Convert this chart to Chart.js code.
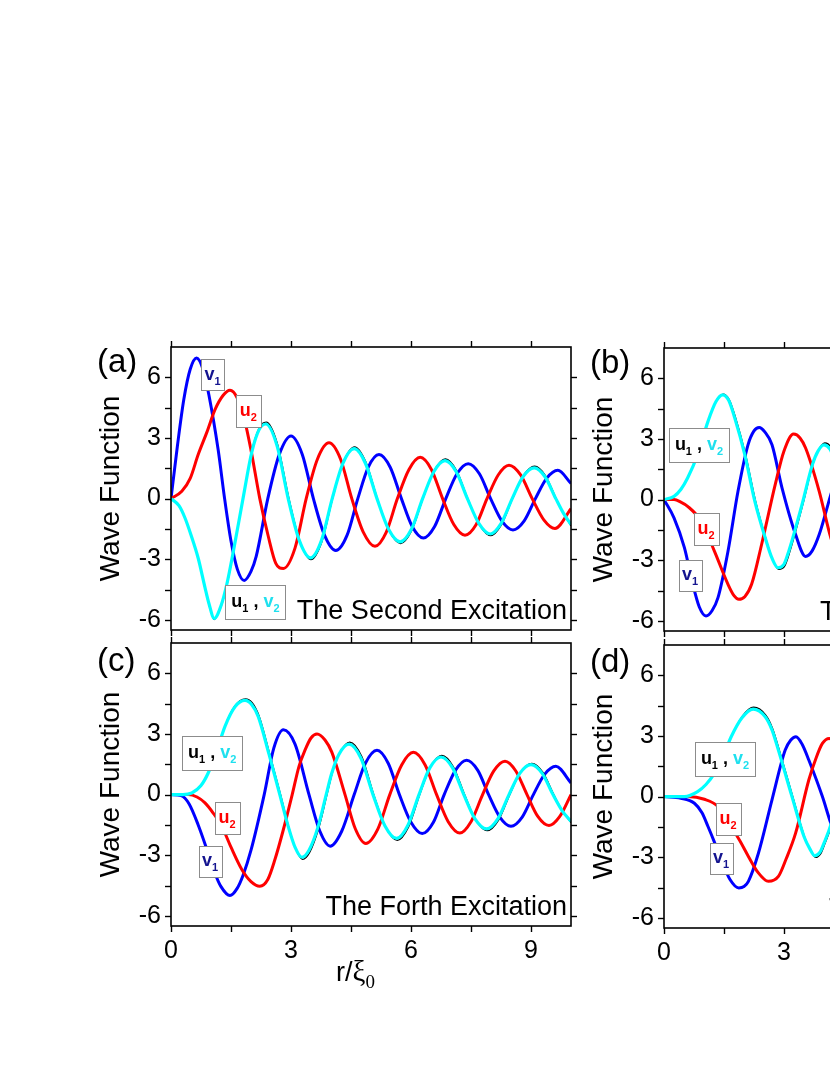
<!DOCTYPE html>
<html lang="en">

<head>
  <meta charset="UTF-8" />
  <title>Wave Function</title>
  <script src="https://cdn.jsdelivr.net/npm/chart.js"></script>
  <style>
    html, body { margin: 0; padding: 0; background: #fff; }
    body { width: 830px; height: 1075px; overflow: hidden; position: relative; }
    canvas { position: absolute; }
  </style>
</head>

<body>
  <canvas id="cA" width="491" height="313" style="left:90px; top:327px;"></canvas>
  <canvas id="cB" width="491" height="313" style="left:583px; top:328px;"></canvas>
  <canvas id="cC" width="491" height="373" style="left:90px; top:623px;"></canvas>
  <canvas id="cD" width="491" height="373" style="left:583px; top:625px;"></canvas>

  <script>
    // eixos
    const xTicks = [0, 3, 6, 9];
    const yTicks = [-6, -3, 0, 3, 6];
    const xMarcas = [0, 1.5, 3, 4.5, 6, 7.5, 9];
    const yMarcas = [-6, -4.5, -3, -1.5, 0, 1.5, 3, 4.5, 6];

    // (a) segunda excitacao  -- pares [r, valor]
    const aV1 = [[0,0],[0.16,2.6],[0.32,4.9],[0.48,6.4],[0.64,6.96],[0.8,6.4],[0.95,5.1],[1.18,2.4],[1.34,0],[1.5,-2.1],[1.66,-3.5],[1.83,-4.05],[2.0,-3.6],[2.13,-2.86],[2.42,0],[2.71,2.2],[3.0,3.1],[3.28,2.2],[3.56,0],[3.84,-1.82],[4.12,-2.57],[4.4,-1.82],[4.67,0],[4.93,1.55],[5.2,2.18],[5.48,1.55],[5.76,0],[6.03,-1.38],[6.31,-1.95],[6.59,-1.38],[6.87,0],[7.15,1.23],[7.43,1.73],[7.71,1.23],[7.99,0],[8.27,-1.1],[8.55,-1.55],[8.83,-1.1],[9.11,0],[9.39,1.0],[9.67,1.4],[10,0.75]];
    const aU2 = [[0,0],[0.27,0.36],[0.48,1.0],[0.68,2.18],[0.9,3.3],[1.1,4.4],[1.3,5.1],[1.475,5.36],[1.65,5.0],[1.85,3.8],[2.0,2.4],[2.22,0],[2.43,-1.85],[2.62,-3.2],[2.81,-3.46],[3.1,-2.45],[3.38,0],[3.66,1.95],[3.95,2.76],[4.24,1.95],[4.52,0],[4.81,-1.67],[5.1,-2.36],[5.38,-1.67],[5.66,0],[5.95,1.44],[6.23,2.04],[6.51,1.44],[6.79,0],[7.07,-1.28],[7.35,-1.81],[7.63,-1.28],[7.9,0],[8.18,1.17],[8.45,1.65],[8.74,1.17],[9.03,0],[9.32,-1.05],[9.6,-1.48],[10,-0.5]];
    const aV2 = [[0,0],[0.2,-0.35],[0.35,-0.96],[0.5,-1.8],[0.68,-2.95],[0.85,-4.4],[0.95,-5.2],[1.08,-5.93],[1.25,-5.3],[1.4,-4.2],[1.56,-2.6],[1.8,0],[2.02,2.3],[2.2,3.4],[2.37,3.69],[2.65,2.62],[2.93,0],[3.21,-2.08],[3.49,-2.93],[3.76,-2.08],[4.03,0],[4.3,1.75],[4.58,2.47],[4.86,1.75],[5.15,0],[5.44,-1.52],[5.73,-2.14],[6.01,-1.52],[6.29,0],[6.57,1.33],[6.85,1.88],[7.13,1.33],[7.41,0],[7.7,-1.24],[7.98,-1.75],[8.25,-1.24],[8.53,0],[8.8,1.08],[9.08,1.52],[9.35,1.08],[9.62,0],[9.81,-0.72],[10,-1.29]];
    const aU1 = [[0,0],[0.2,-0.35],[0.35,-0.96],[0.5,-1.8],[0.68,-2.95],[0.85,-4.45],[0.95,-5.25],[1.08,-5.98],[1.25,-5.35],[1.4,-4.25],[1.56,-2.65],[1.8,0],[2.02,2.35],[2.2,3.48],[2.38,3.78],[2.66,2.72],[2.95,0],[3.23,-2.15],[3.5,-3.02],[3.77,-2.15],[4.04,0],[4.31,1.82],[4.59,2.56],[4.87,1.82],[5.16,0],[5.45,-1.58],[5.74,-2.22],[6.02,-1.58],[6.3,0],[6.58,1.39],[6.86,1.96],[7.14,1.39],[7.42,0],[7.71,-1.3],[7.99,-1.83],[8.26,-1.3],[8.54,0],[8.81,1.14],[9.09,1.6],[9.36,1.14],[9.63,0],[9.82,-0.76],[10,-1.35]];

    // (b) terceira excitacao (so a parte visivel)
    const bV1 = [[0,0],[0.25,-0.9],[0.51,-2.38],[0.72,-4.19],[0.88,-5.3],[1.05,-5.76],[1.2,-5.5],[1.35,-4.85],[1.6,-2.55],[1.85,0.41],[2.1,2.71],[2.25,3.4],[2.38,3.57],[2.52,3.35],[2.7,2.71],[2.95,0.58],[3.29,-1.73],[3.54,-2.81],[3.7,-2.55],[3.88,-1.73],[4.17,0.25],[4.3,1.1]];
    const bU2 = [[0,0],[0.25,0],[0.42,-0.12],[0.59,-0.33],[0.93,-1.07],[1.26,-2.55],[1.6,-4.19],[1.75,-4.75],[1.87,-4.93],[2.02,-4.8],[2.19,-4.19],[2.44,-2.22],[2.78,0.74],[3.0,2.4],[3.24,3.24],[3.4,3.05],[3.54,2.55],[3.88,0.41],[4.17,-1.89],[4.3,-2.6]];
    const bV2 = [[0,0],[0.25,0.16],[0.42,0.5],[0.59,1.07],[0.84,2.22],[1.1,3.87],[1.3,4.85],[1.47,5.18],[1.62,4.9],[1.77,4.03],[2.02,2.22],[2.27,-0.08],[2.53,-1.89],[2.7,-2.9],[2.85,-3.37],[3.0,-3.2],[3.12,-2.55],[3.45,-0.25],[3.71,1.73],[3.85,2.4],[4.0,2.71],[4.15,2.5],[4.3,1.8]];
    const bU1 = [[0,0],[0.25,0.16],[0.42,0.5],[0.59,1.07],[0.84,2.22],[1.1,3.87],[1.3,4.87],[1.48,5.22],[1.63,4.95],[1.79,4.05],[2.04,2.22],[2.29,-0.08],[2.55,-1.95],[2.72,-2.98],[2.87,-3.45],[3.02,-3.28],[3.14,-2.62],[3.47,-0.25],[3.73,1.8],[3.87,2.48],[4.02,2.8],[4.17,2.6],[4.32,1.85]];

    // (c) quarta excitacao
    const cV1 = [[0,0],[0.25,-0.05],[0.45,-0.45],[0.68,-1.5],[0.93,-2.9],[1.1,-3.9],[1.25,-4.55],[1.475,-4.99],[1.65,-4.65],[1.8,-4.0],[2.0,-2.75],[2.33,0],[2.57,2.3],[2.81,3.21],[3.1,2.5],[3.45,0],[3.72,-1.8],[3.98,-2.55],[4.27,-1.8],[4.58,0],[4.86,1.55],[5.15,2.19],[5.43,1.55],[5.71,0],[6.0,-1.37],[6.28,-1.93],[6.56,-1.37],[6.83,0],[7.11,1.2],[7.39,1.7],[7.67,1.2],[7.94,0],[8.22,-1.11],[8.5,-1.57],[8.78,-1.11],[9.06,0],[9.34,1.0],[9.62,1.4],[10,0.58]];
    const cU2 = [[0,0],[0.43,0],[0.65,-0.12],[0.85,-0.41],[1.05,-0.9],[1.27,-1.57],[1.5,-2.6],[1.77,-3.7],[2.0,-4.3],[2.22,-4.53],[2.42,-4.2],[2.6,-3.2],[2.8,-1.8],[3.03,0],[3.2,1.4],[3.35,2.2],[3.5,2.8],[3.65,3.0],[3.85,2.7],[4.02,2.1],[4.35,0],[4.61,-1.7],[4.87,-2.42],[5.17,-1.71],[5.47,0],[5.77,1.48],[6.06,2.09],[6.35,1.48],[6.64,0],[6.93,-1.34],[7.22,-1.9],[7.5,-1.34],[7.79,0],[8.07,1.17],[8.35,1.65],[8.62,1.17],[8.9,0],[9.17,-1.08],[9.45,-1.53],[9.72,-1.08],[10,0]];
    const cV2 = [[0,0],[0.3,0],[0.52,0.08],[0.75,0.45],[0.93,1.07],[1.15,2.2],[1.35,3.38],[1.6,4.35],[1.85,4.66],[2.02,4.45],[2.18,3.87],[2.45,2.0],[2.72,0],[2.93,-1.57],[3.1,-2.6],[3.27,-3.1],[3.45,-2.75],[3.68,-1.57],[3.88,0],[4.02,1.07],[4.2,2.0],[4.45,2.5],[4.75,1.8],[5.05,0],[5.35,-1.55],[5.64,-2.17],[5.92,-1.53],[6.2,0],[6.47,1.32],[6.75,1.86],[7.04,1.32],[7.32,0],[7.6,-1.2],[7.89,-1.7],[8.17,-1.2],[8.45,0],[8.72,1.05],[9.0,1.48],[9.28,1.05],[9.55,0],[9.78,-0.8],[10,-1.32]];
    const cU1 = [[0,0],[0.3,0],[0.52,0.08],[0.75,0.45],[0.93,1.07],[1.15,2.2],[1.35,3.4],[1.6,4.4],[1.86,4.74],[2.03,4.55],[2.2,3.9],[2.47,2.0],[2.74,0],[2.95,-1.65],[3.12,-2.7],[3.29,-3.2],[3.47,-2.85],[3.7,-1.62],[3.9,0],[4.04,1.12],[4.22,2.08],[4.47,2.6],[4.77,1.88],[5.07,0],[5.37,-1.62],[5.66,-2.26],[5.94,-1.6],[6.22,0],[6.49,1.38],[6.77,1.94],[7.06,1.38],[7.34,0],[7.62,-1.26],[7.91,-1.78],[8.19,-1.26],[8.47,0],[8.74,1.1],[9.02,1.55],[9.3,1.1],[9.57,0],[9.8,-0.85],[10,-1.38]];

    // (d) quinta excitacao (so a parte visivel)
    const dV1 = [[0,0],[0.42,-0.08],[0.76,-0.33],[0.95,-0.8],[1.1,-1.48],[1.25,-2.2],[1.43,-3.13],[1.65,-4.1],[1.87,-4.52],[2.0,-4.45],[2.11,-4.19],[2.36,-2.8],[2.7,-0.16],[3.03,2.3],[3.17,2.8],[3.3,2.96],[3.45,2.6],[3.62,1.81],[3.96,0],[4.17,-1.32],[4.3,-2.0]];
    const dU2 = [[0,0],[0.59,0],[1.01,-0.13],[1.35,-0.49],[1.68,-1.48],[1.9,-2.2],[2.11,-2.96],[2.35,-3.75],[2.61,-4.19],[2.86,-3.95],[3.05,-3.1],[3.29,-1.81],[3.62,0.82],[3.8,1.9],[3.96,2.63],[4.13,2.88],[4.3,2.7]];
    const dV2 = [[0,0],[0.51,0],[0.84,0.25],[1.05,0.6],[1.26,1.15],[1.48,2.0],[1.68,2.96],[1.95,3.9],[2.23,4.33],[2.53,3.95],[2.7,3.3],[2.86,2.3],[3.2,0],[3.5,-1.97],[3.65,-2.6],[3.77,-2.93],[3.9,-2.75],[4.0,-2.3],[4.17,-1.4],[4.3,-0.35]];
    const dU1 = [[0,0],[0.51,0],[0.84,0.25],[1.05,0.6],[1.26,1.15],[1.48,2.0],[1.69,3.0],[1.96,3.98],[2.24,4.42],[2.55,4.02],[2.72,3.35],[2.88,2.32],[3.22,0],[3.52,-2.02],[3.67,-2.68],[3.79,-3.01],[3.92,-2.82],[4.02,-2.35],[4.19,-1.42],[4.32,-0.35]];

    const fonte = "'Liberation Sans', Arial, sans-serif";
    const serifa = "'Liberation Serif', 'Times New Roman', serif";
    const azulEscuro = '#14148f';
    const ciano = '#00ffff';
    const cianoTexto = '#1ee0ee';

    const tagV1 = { w: 23, h: 31, partes: [['v', azulEscuro, 0], ['1', azulEscuro, 1]] };
    const tagU2 = { w: 25, h: 32, partes: [['u', '#ff0000', 0], ['2', '#ff0000', 1]] };
    const tagUV = { w: 60, h: 34, partes: [['u', '#000', 0], ['1', '#000', 1], [' , ', '#000', 0], ['v', cianoTexto, 0], ['2', cianoTexto, 1]] };

    function desenharEtiqueta(ctx, cx, cy, tag) {
      const x0 = Math.round(cx - tag.w / 2), y0 = Math.round(cy - tag.h / 2);
      ctx.fillStyle = '#fff';
      ctx.fillRect(x0, y0, tag.w, tag.h);
      ctx.strokeStyle = '#8c8c8c';
      ctx.lineWidth = 1;
      ctx.strokeRect(x0 + 0.5, y0 + 0.5, tag.w, tag.h);

      const larguras = [];
      let total = 0;
      for (let i = 0; i < tag.partes.length; i++) {
        const p = tag.partes[i];
        ctx.font = p[2] ? 'bold 11px ' + fonte : 'bold 18px ' + fonte;
        const w = ctx.measureText(p[0]).width;
        larguras.push(w);
        total += w;
      }
      let x = cx - total / 2;
      ctx.textAlign = 'left';
      ctx.textBaseline = 'alphabetic';
      for (let i = 0; i < tag.partes.length; i++) {
        const p = tag.partes[i];
        ctx.font = p[2] ? 'bold 11px ' + fonte : 'bold 18px ' + fonte;
        ctx.fillStyle = p[1];
        ctx.fillText(p[0], x, p[2] ? cy + 10 : cy + 5);
        x += larguras[i];
      }
    }

    function linha(ctx, x1, y1, x2, y2) {
      ctx.beginPath();
      ctx.moveTo(x1, y1);
      ctx.lineTo(x2, y2);
      ctx.stroke();
    }

    const decoPlugin = {
      id: 'deco',
      afterDatasetsDraw(chart, args, opts) {
        const { ctx, chartArea: ca } = chart;
        const sx = chart.scales.x, sy = chart.scales.y;
        ctx.save();

        for (let i = 0; i < opts.etiquetas.length; i++) {
          const e = opts.etiquetas[i];
          desenharEtiqueta(ctx, sx.getPixelForValue(e.x), sy.getPixelForValue(e.y), e.tag);
        }

        // moldura e marcas
        ctx.strokeStyle = '#000';
        ctx.lineWidth = 1.6;
        ctx.strokeRect(ca.left, ca.top, ca.right - ca.left, ca.bottom - ca.top);
        ctx.lineWidth = 1.4;
        xMarcas.forEach(v => {
          const px = Math.round(sx.getPixelForValue(v)) + 0.5;
          linha(ctx, px, ca.bottom, px, ca.bottom + 6);
          linha(ctx, px, ca.top, px, ca.top - 6);
        });
        yMarcas.forEach(v => {
          const py = Math.round(sy.getPixelForValue(v)) + 0.5;
          linha(ctx, ca.left, py, ca.left - 6, py);
          linha(ctx, ca.right, py, ca.right + 6, py);
        });

        ctx.fillStyle = '#000';
        ctx.textBaseline = 'alphabetic';
        ctx.font = '27px ' + fonte;
        ctx.textAlign = 'right';
        ctx.fillText(opts.titulo, ca.right - 4, ca.bottom - 11);

        ctx.font = '33px ' + fonte;
        ctx.textAlign = 'left';
        ctx.fillText(opts.letra, ca.left - 74, ca.top + opts.letraY);

        if (opts.eixoX) {
          let x = ca.left + 165;
          const base = ca.bottom + 55;
          ctx.font = '27px ' + fonte;
          ctx.fillText('r/', x, base);
          x += ctx.measureText('r/').width;
          ctx.font = '29px ' + serifa;
          ctx.fillText('ξ', x, base);
          x += ctx.measureText('ξ').width;
          ctx.font = '19px ' + serifa;
          ctx.fillText('0', x, base + 7);
        }
        ctx.restore();
      }
    };

    function montarDatasets(v1, u2, u1, v2) {
      const base = { pointRadius: 0, fill: false, cubicInterpolationMode: 'monotone' };
      return [
        { ...base, label: 'v2', data: v2, borderColor: ciano, borderWidth: 3.2 },
        { ...base, label: 'u1', data: u1, borderColor: '#000', borderWidth: 1.3 },
        { ...base, label: 'u2', data: u2, borderColor: '#ff0000', borderWidth: 3 },
        { ...base, label: 'v1', data: v1, borderColor: '#0000ff', borderWidth: 3 }
      ];
    }

    function criarPainel(id, datasets, cfg) {
      new Chart(document.getElementById(id), {
        type: 'line',
        data: { datasets },
        options: {
          responsive: false,
          animation: false,
          events: [],
          layout: { padding: { left: 0, right: 10, top: 20, bottom: cfg.eixoX ? 30 : 2 } },
          plugins: { legend: { display: false }, tooltip: { enabled: false }, deco: cfg },
          scales: {
            x: {
              type: 'linear', min: 0, max: 10,
              grid: { display: false, drawTicks: false },
              border: { display: false },
              afterBuildTicks: s => { s.ticks = xTicks.map(v => ({ value: v })); },
              afterFit: s => { s.height = cfg.eixoX ? 40 : 8; s.paddingLeft = 0; s.paddingRight = 0; },
              ticks: { display: cfg.eixoX, padding: 10, color: '#000', font: { family: fonte, size: 25 }, callback: v => String(v) }
            },
            y: {
              type: 'linear', min: -6.5, max: 7.5,
              grid: { display: false, drawTicks: false },
              border: { display: false },
              afterBuildTicks: s => { s.ticks = yTicks.map(v => ({ value: v })); },
              afterFit: s => { s.width = 81; s.paddingTop = 0; s.paddingBottom = 0; },
              ticks: { padding: 10, color: '#000', font: { family: fonte, size: 25 }, callback: v => String(v) },
              title: { display: true, text: 'Wave Function', color: '#000', font: { family: fonte, size: 28 }, padding: { top: 4, bottom: 4 } }
            }
          }
        },
        plugins: [decoPlugin]
      });
    }

    criarPainel('cA', montarDatasets(aV1, aU2, aU1, aV2), {
      titulo: 'The Second Excitation', letra: '(a)', letraY: 25, eixoX: false,
      etiquetas: [{ tag: tagV1, x: 1.04, y: 6.13 }, { tag: tagU2, x: 1.93, y: 4.33 }, { tag: tagUV, x: 2.11, y: -5.12 }]
    });
    criarPainel('cB', montarDatasets(bV1, bU2, bU1, bV2), {
      titulo: 'The Third Excitation', letra: '(b)', letraY: 25, eixoX: false,
      etiquetas: [{ tag: tagUV, x: 0.875, y: 2.72 }, { tag: tagU2, x: 1.05, y: -1.44 }, { tag: tagV1, x: 0.65, y: -3.73 }]
    });
    criarPainel('cC', montarDatasets(cV1, cU2, cU1, cV2), {
      titulo: 'The Forth Excitation', letra: '(c)', letraY: 28, eixoX: true,
      etiquetas: [{ tag: tagUV, x: 1.03, y: 2.05 }, { tag: tagU2, x: 1.4, y: -1.14 }, { tag: tagV1, x: 0.975, y: -3.29 }]
    });
    criarPainel('cD', montarDatasets(dV1, dU2, dU1, dV2), {
      titulo: 'The Fifth Excitation', letra: '(d)', letraY: 27, eixoX: true,
      etiquetas: [{ tag: tagUV, x: 1.525, y: 1.86 }, { tag: tagU2, x: 1.6, y: -1.12 }, { tag: tagV1, x: 1.425, y: -3.06 }]
    });
  </script>
</body>

</html>
